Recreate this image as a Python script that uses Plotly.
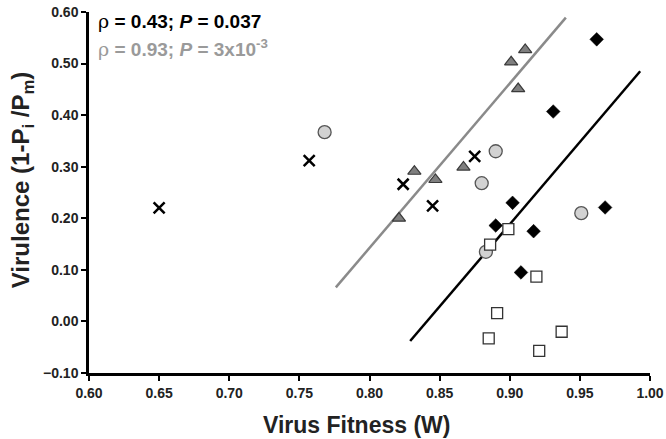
import plotly.graph_objects as go

# Data
cross_x = [0.650, 0.757, 0.824, 0.845, 0.875]
cross_y = [0.220, 0.312, 0.266, 0.224, 0.320]

circle_x = [0.768, 0.890, 0.880, 0.951, 0.883]
circle_y = [0.367, 0.330, 0.268, 0.210, 0.135]

tri_x = [0.821, 0.832, 0.847, 0.867, 0.901, 0.911, 0.906]
tri_y = [0.200, 0.291, 0.275, 0.299, 0.503, 0.527, 0.451]

diam_x = [0.962, 0.931, 0.902, 0.968, 0.890, 0.917, 0.908]
diam_y = [0.547, 0.407, 0.230, 0.221, 0.186, 0.175, 0.095]

sq_x = [0.899, 0.886, 0.919, 0.891, 0.885, 0.937, 0.921]
sq_y = [0.179, 0.149, 0.087, 0.016, -0.033, -0.020, -0.057]

gray_fit_x = [0.776, 0.940]
gray_fit_y = [0.066, 0.589]
black_fit_x = [0.829, 0.993]
black_fit_y = [-0.038, 0.485]

x_ticks = [0.60, 0.65, 0.70, 0.75, 0.80, 0.85, 0.90, 0.95, 1.00]
y_ticks = [-0.10, 0.00, 0.10, 0.20, 0.30, 0.40, 0.50, 0.60]

x_title = "Virus Fitness (W)"
y_title = "Virulence (1-P<sub>i</sub> /P<sub>m</sub>)"

FONT = "Liberation Sans, Arial, sans-serif"

fig = go.Figure()

fig.add_trace(go.Scatter(x=gray_fit_x, y=gray_fit_y, mode="lines",
                         line=dict(color="#8a8a8a", width=2.5), showlegend=False))
fig.add_trace(go.Scatter(x=black_fit_x, y=black_fit_y, mode="lines",
                         line=dict(color="black", width=2.5), showlegend=False))

fig.add_trace(go.Scatter(x=cross_x, y=cross_y, mode="markers",
                         marker=dict(symbol="x-thin", size=11, line=dict(color="black", width=2.5)),
                         showlegend=False))
fig.add_trace(go.Scatter(x=circle_x, y=circle_y, mode="markers",
                         marker=dict(symbol="circle", size=13, color="#d2d2d2",
                                     line=dict(color="#555555", width=1.3)),
                         showlegend=False))
fig.add_trace(go.Scatter(x=tri_x, y=tri_y, mode="markers",
                         marker=dict(symbol="triangle-up", size=11.5, color="#7f7f7f",
                                     line=dict(color="#3a3a3a", width=1.2)),
                         showlegend=False))
fig.add_trace(go.Scatter(x=diam_x, y=diam_y, mode="markers",
                         marker=dict(symbol="diamond", size=10.5, color="black",
                                     line=dict(color="black", width=0.5)),
                         showlegend=False))
fig.add_trace(go.Scatter(x=sq_x, y=sq_y, mode="markers",
                         marker=dict(symbol="square", size=11, color="white",
                                     line=dict(color="#333333", width=1.3)),
                         showlegend=False))

RHO = "<span style=\"font-family:'DejaVu Serif',serif;font-weight:normal\">ρ</span>"
fig.add_annotation(x=0, y=1, xref="paper", yref="paper", xanchor="left", yanchor="middle",
                   xshift=7, yshift=-8.5, showarrow=False, align="left",
                   text=RHO + " = 0.43; <i>P</i> = 0.037",
                   font=dict(family=FONT, size=19, color="black", weight="bold"))
fig.add_annotation(x=0, y=1, xref="paper", yref="paper", xanchor="left", yanchor="middle",
                   xshift=7, yshift=-36, showarrow=False, align="left",
                   text=RHO + " = 0.93; <i>P</i> = 3x10<sup>-3</sup>",
                   font=dict(family=FONT, size=19, color="#9a9a9a", weight="bold"))

# axis titles (placed as annotations to match the reference's off-centre positions)
fig.add_annotation(x=0.476, y=0, xref="paper", yref="paper", xanchor="center", yanchor="middle",
                   yshift=-52, showarrow=False, text=x_title,
                   font=dict(family=FONT, size=23, color="#222", weight="bold"))
fig.add_annotation(x=0, y=0.534, xref="paper", yref="paper", xanchor="center", yanchor="middle",
                   xshift=-67, showarrow=False, text=y_title, textangle=-90,
                   font=dict(family=FONT, size=24, color="#222", weight="bold"))

axis_common = dict(showline=True, linecolor="black", linewidth=2.5, ticks="outside",
                   ticklen=5, tickwidth=2, tickcolor="black", showgrid=False, zeroline=False,
                   tickformat=".2f", automargin=False,
                   tickfont=dict(family=FONT, size=14, color="#222", weight="bold"))

fig.update_xaxes(range=[0.60, 1.00], tickvals=x_ticks, **axis_common)
fig.update_yaxes(range=[-0.10, 0.60], tickvals=y_ticks, **axis_common)

fig.update_layout(width=666, height=439, plot_bgcolor="white", paper_bgcolor="white",
                  margin=dict(l=89, r=16, t=11.5, b=66))

# remove the page's default 8px body margin so the figure fills the window
fig.write_html("out.html", config={"displayModeBar": False},
               post_script="document.body.style.margin='0';document.body.style.overflow='hidden';")
